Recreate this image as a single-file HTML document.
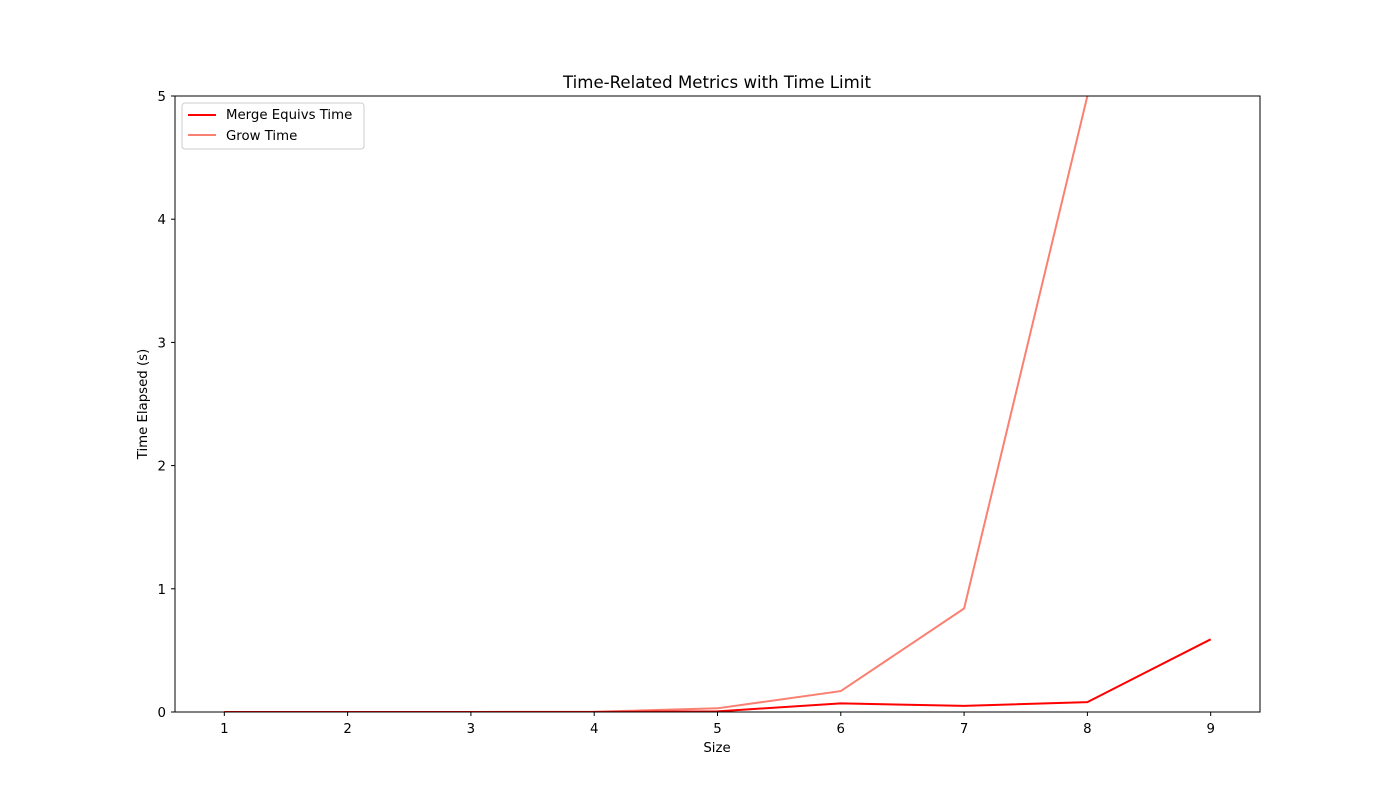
<!DOCTYPE html>
<html><head><meta charset="utf-8"><style>
body{margin:0;background:#fff;font-family:"Liberation Sans","DejaVu Sans",sans-serif}
svg text{font-family:"DejaVu Sans","Liberation Sans",sans-serif;fill:#000}
</style></head><body>
<svg id="chart" width="1400" height="800" xmlns="http://www.w3.org/2000/svg">
<rect width="1400" height="800" fill="#fff"/>
<text x="717" y="88" font-size="16.6" text-anchor="middle">Time-Related Metrics with Time Limit</text>
<defs><clipPath id="clip"><rect x="175" y="96" width="1085" height="616"/></clipPath></defs>
<g id="series" clip-path="url(#clip)"></g>
<rect x="175" y="96" width="1085" height="616" fill="none" stroke="#000" stroke-width="1"/>
<g id="ticks"></g>
<text x="717" y="752" font-size="13.3" text-anchor="middle">Size</text>
<text transform="translate(147,404) rotate(-90)" font-size="13.3" text-anchor="middle">Time Elapsed (s)</text>
<g>
<rect x="182" y="103" width="182" height="46" rx="3" fill="#fff" stroke="#ccc"/>
<line x1="188" y1="115" x2="216" y2="115" stroke="#ff0000" stroke-width="2"/>
<text x="226" y="119" font-size="13.3">Merge Equivs Time</text>
<line x1="188" y1="135" x2="216" y2="135" stroke="#fa8072" stroke-width="2"/>
<text x="226" y="140" font-size="13.3">Grow Time</text>
</g>
</svg>
<script>
const sizes=[1,2,3,4,5,6,7,8,9];
const mergeTimes=[0,0,0,0,0.005,0.07,0.05,0.08,0.59];
const growSizes=[1,2,3,4,5,6,7,8];
const growTimes=[0,0,0,0.002,0.03,0.17,0.84,5.0];
const xTicks=[1,2,3,4,5,6,7,8,9];
const yTicks=[0,1,2,3,4,5];
const X=v=>175+(v-0.6)/8.8*1085;
const Y=v=>712-v/5*616;
const NS="http://www.w3.org/2000/svg";
const ticks=document.getElementById('ticks');
function mk(tag,attrs,parent){const e=document.createElementNS(NS,tag);for(const k in attrs)e.setAttribute(k,attrs[k]);parent.appendChild(e);return e;}
xTicks.forEach(t=>{
 const l=mk('line',{x1:X(t),x2:X(t),y1:712,y2:716,stroke:'#000'},ticks);
 
 
 const tx=mk('text',{x:X(t),y:733,'font-size':13.3,'text-anchor':'middle'},ticks);tx.textContent=t;
 
 
});
yTicks.forEach(t=>{
 const l=mk('line',{x1:171,x2:175,y1:Y(t),y2:Y(t),stroke:'#000'},ticks);
 
 
 const tx=mk('text',{x:166,y:Y(t)+5,'font-size':13.3,'text-anchor':'end'},ticks);tx.textContent=t;
 
 
});
const s=document.getElementById('series');
const g=mk('polyline',{points:growSizes.map((x,i)=>X(x)+','+Y(growTimes[i])).join(' '),fill:'none',stroke:'#fa8072','stroke-width':2},s);


const m=mk('polyline',{points:sizes.map((x,i)=>X(x)+','+Y(mergeTimes[i])).join(' '),fill:'none',stroke:'#ff0000','stroke-width':2},s);


</script>
</body></html>
